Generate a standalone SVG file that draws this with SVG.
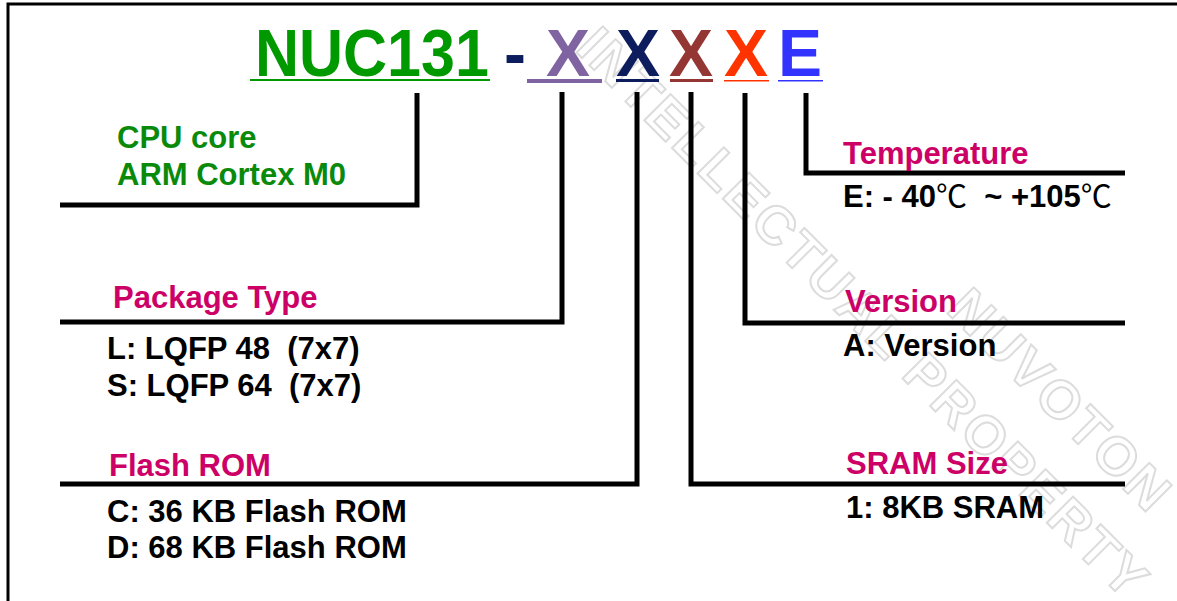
<svg xmlns="http://www.w3.org/2000/svg" width="1177" height="601" viewBox="0 0 1177 601">
  <style>
    .lbl { font-family: "Liberation Sans", Arial, sans-serif; font-weight: bold; font-size: 31px; white-space: pre; }
    .head { fill: #CC0066; }
    .desc { fill: #000000; }
    .core { fill: #0A8A0A; }
    .title { font-family: "Liberation Sans", Arial, sans-serif; font-weight: bold; font-size: 66px; }
    .title.part { font-size: 61px; }
    .deg { font-family: "Noto Sans CJK SC", "DejaVu Sans", sans-serif; font-weight: normal; }
    .wire { fill: none; stroke: #000; stroke-width: 5; stroke-linejoin: miter; stroke-linecap: butt; }
    .wm { font-family: "Liberation Sans", Arial, sans-serif; font-weight: bold; font-size: 54px; fill: none; stroke: #DCDCDC; stroke-width: 2; letter-spacing: 3px; }
  </style>

  <rect width="1177" height="601" fill="#FFFFFF"/>

  <!-- faint watermark -->
  <g id="watermark">
    <text class="wm" transform="translate(574,50) rotate(45)">INTELLECTUAL PROPERTY</text>
    <text class="wm" transform="translate(945,311) rotate(45)">NUVOTON</text>
  </g>

  <!-- frame -->
  <path d="M8,601 V4 H1177" fill="none" stroke="#000" stroke-width="3"/>

  <!-- part number -->
  <g id="title">
    <text class="title part" transform="translate(255,76) scale(1,1.08)" fill="#009900">NUC131</text>
    <text class="title" x="504" y="76" fill="#0C1C5C">-</text>
    <text class="title" x="546" y="76" fill="#8064A2">X</text>
    <text class="title" x="616" y="76" fill="#0C1C5C">X</text>
    <text class="title" x="669" y="76" fill="#943634">X</text>
    <text class="title" x="724" y="76" fill="#FF3300">X</text>
    <text class="title" x="778" y="76" fill="#3333FF">E</text>
    <rect x="250" y="79" width="240" height="2" fill="#009900"/>
    <rect x="527" y="79" width="75" height="4" fill="#8064A2"/>
    <rect x="616" y="79" width="43" height="3" fill="#0C1C5C"/>
    <rect x="670" y="79" width="43" height="3" fill="#943634"/>
    <rect x="724" y="80" width="45" height="1.5" fill="#FF3300"/>
    <rect x="778" y="80" width="45" height="1.5" fill="#3333FF"/>
  </g>

  <!-- leader lines -->
  <g id="connectors">
    <path class="wire" d="M60,205 H417 V93"/>
    <path class="wire" d="M60,322 H562 V92"/>
    <path class="wire" d="M60,484 H637 V92"/>
    <path class="wire" d="M1125,484 H691 V92"/>
    <path class="wire" d="M1125,323 H745 V93"/>
    <path class="wire" d="M1125,173 H806 V93"/>
  </g>

  <g id="cpu-core">
    <text class="lbl core" x="117" y="148">CPU core</text>
    <text class="lbl core" x="117" y="185">ARM Cortex M0</text>
  </g>

  <g id="package-type">
    <text class="lbl head" x="113" y="308">Package Type</text>
    <text class="lbl desc" x="107" y="359">L: LQFP 48  (7x7)</text>
    <text class="lbl desc" x="107" y="396">S: LQFP 64  (7x7)</text>
  </g>

  <g id="flash-rom">
    <text class="lbl head" x="109" y="476">Flash ROM</text>
    <text class="lbl desc" x="107" y="522">C: 36 KB Flash ROM</text>
    <text class="lbl desc" x="107" y="558">D: 68 KB Flash ROM</text>
  </g>

  <g id="temperature">
    <text class="lbl head" x="843" y="164">Temperature</text>
    <text class="lbl desc" x="843" y="207">E: - 40<tspan class="deg">℃</tspan>  ~ +105<tspan class="deg">℃</tspan></text>
  </g>

  <g id="version">
    <text class="lbl head" x="845" y="312">Version</text>
    <text class="lbl desc" x="843" y="356">A: Version</text>
  </g>

  <g id="sram-size">
    <text class="lbl head" x="846" y="474">SRAM Size</text>
    <text class="lbl desc" x="846" y="518">1: 8KB SRAM</text>
  </g>
</svg>
